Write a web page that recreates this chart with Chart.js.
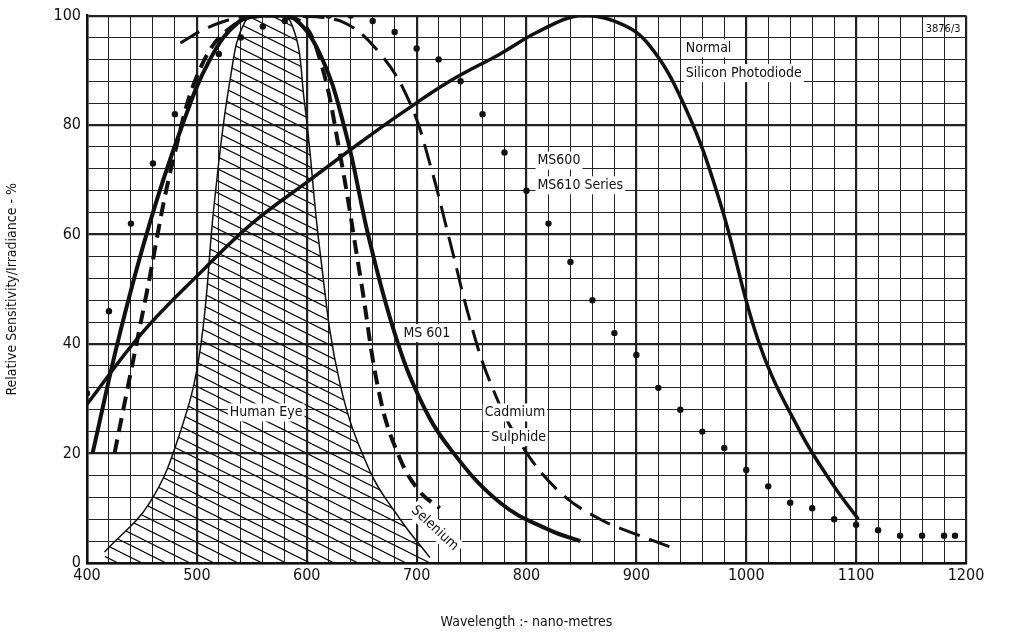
<!DOCTYPE html>
<html><head><meta charset="utf-8">
<script src="https://cdn.jsdelivr.net/npm/chart.js@4"></script>
<style>
html,body{margin:0;padding:0;background:#fff}
</style></head>
<body><canvas id="c" width="1024" height="635"></canvas>
<script>
// wavelengths (nm) and relative sensitivity (%) per curve
const siliconNm = [400, 450, 503, 550, 603, 650, 685, 730, 776, 810, 848, 880, 910, 945, 976, 1012, 1049, 1080, 1102];
const siliconVal = [29, 42, 53, 62, 70, 77, 82, 88, 93, 97, 100, 99, 95, 83, 66, 40, 24, 14, 8];

const ms600Nm = [400,420,440,460,480,500,520,540,560,580,600,620,640,660,680,700,720,740,760,780,800,820,840,860,880,900,920,940,960,980,1000,1020,1040,1060,1080,1100,1120,1140,1160,1180,1190];
const ms600Val = [31,46,62,73,82,88,93,96,98,99,100,100,100,99,97,94,92,88,82,75,68,62,55,48,42,38,32,28,24,21,17,14,11,10,8,7,6,5,5,5,5];

const ms601Nm = [405,430,457,485,512,539,562,585,612,635,657,680,703,730,776,821,849];
const ms601Val = [20,42,62,79,92,99,100,100,93,79,59,42,30,21,11,6,4];

const seleniumNm = [425,453,480,507,539,566,594,612,630,649,667,685,703,721];
const seleniumVal = [20,48,75,92,99,100,99,92,75,52,30,19,13,10];

const cdsNm = [485,512,548,585,631,667,694,712,730,749,767,794,830,867,903,930];
const cdsVal = [95,98,100,100,99,93,84,73,59,44,33,22,13,8,5,3];

const eyeNm = [416,457,485,503,516,530,544,562,585,598,612,630,657,685,712];
const eyeVal = [2,11,24,39,66,88,99,100,99,84,57,33,17,8,1];

const xTickLabels = [400,500,600,700,800,900,1000,1100,1200];
const yTickLabels = [0,20,40,60,80,100];

const pts = (xs, ys) => xs.map((x, i) => ({x: x, y: ys[i]}));

// hatch pattern for the human eye area
const pc = document.createElement("canvas");
pc.width = 24; pc.height = 12;
const pg = pc.getContext("2d");
pg.strokeStyle = "#111"; pg.lineWidth = 1.2;
pg.beginPath();
for (let k = -2; k <= 2; k++) { pg.moveTo(0, k*12); pg.lineTo(24, k*12 + 12); }
pg.stroke();
const hatch = pg.createPattern(pc, "repeat");

const FONT = "'DejaVu Sans Condensed', 'DejaVu Sans', sans-serif";

const labels = [
  {t: "Normal", x: 945, y: 94},
  {t: "Silicon Photodiode", x: 945, y: 89.5},
  {t: "MS600", x: 810, y: 73.5},
  {t: "MS610 Series", x: 810, y: 69},
  {t: "MS 601", x: 688, y: 42},
  {t: "Human Eye", x: 530, y: 27.5},
  {t: "Cadmium", x: 762, y: 27.5},
  {t: "Sulphide", x: 768, y: 23}
];

const textPlugin = {
  id: "texts",
  afterDatasetsDraw(chart) {
    const ctx = chart.ctx, xs = chart.scales.x, ys = chart.scales.y;
    ctx.save();
    ctx.font = "14px " + FONT;
    ctx.textBaseline = "middle";
    ctx.textAlign = "left";
    labels.forEach(l => {
      const px = xs.getPixelForValue(l.x), py = ys.getPixelForValue(l.y);
      const w = ctx.measureText(l.t).width;
      ctx.fillStyle = "#fff";
      ctx.fillRect(px - 2, py - 9, w + 4, 18);
      ctx.fillStyle = "#111";
      ctx.fillText(l.t, px, py);
    });
    // rotated Selenium label
    ctx.save();
    ctx.translate(xs.getPixelForValue(697), ys.getPixelForValue(10));
    ctx.rotate(0.75);
    ctx.fillStyle = "#fff"; ctx.fillRect(-2, -9, 64, 18);
    ctx.fillStyle = "#111";
    ctx.fillText("Selenium", 0, 0);
    ctx.restore();
    ctx.font = "11px " + FONT;
    ctx.textAlign = "right";
    ctx.fillStyle = "#111";
    ctx.fillText("3876/3", xs.getPixelForValue(1195), ys.getPixelForValue(97.5));
    ctx.restore();
  }
};

const major = (v, m) => (Math.round(v) % m === 0 ? 2.2 : 1);

new Chart(document.getElementById("c"), {
  type: "line",
  data: {
    datasets: [
      {label: "Human Eye", data: pts(eyeNm, eyeVal), borderColor: "#111", borderWidth: 1.5, backgroundColor: hatch, fill: "origin", tension: 0.4, pointRadius: 0},
      {label: "Normal Silicon Photodiode", data: pts(siliconNm, siliconVal), borderColor: "#111", borderWidth: 3.5, tension: 0.4, pointRadius: 0, fill: false},
      {label: "MS600/MS610", data: pts(ms600Nm, ms600Val), showLine: false, pointRadius: 3.2, pointBackgroundColor: "#111", pointBorderWidth: 0, fill: false},
      {label: "MS 601", data: pts(ms601Nm, ms601Val), borderColor: "#111", borderWidth: 4, tension: 0.4, pointRadius: 0, fill: false},
      {label: "Selenium", data: pts(seleniumNm, seleniumVal), borderColor: "#111", borderWidth: 4, borderDash: [14, 8], tension: 0.4, pointRadius: 0, fill: false},
      {label: "Cadmium Sulphide", data: pts(cdsNm, cdsVal), borderColor: "#111", borderWidth: 3, borderDash: [22, 10], tension: 0.4, pointRadius: 0, fill: false}
    ]
  },
  options: {
    responsive: false, animation: false,
    layout: {padding: {left: 0, top: 14, right: 58, bottom: 0}},
    plugins: {legend: {display: false}, tooltip: {enabled: false}},
    scales: {
      x: {
        type: "linear", min: 400, max: 1200,
        afterFit: s => { s.height = 72; },
        ticks: {stepSize: 20, autoSkip: false, maxRotation: 0, color: "#111",
          font: {size: 16, family: FONT},
          callback: v => xTickLabels.includes(v) ? String(v) : ""},
        grid: {color: "#222", lineWidth: c => major(c.tick.value, 100), drawTicks: false},
        border: {color: "#111", width: 2.5},
        title: {display: true, text: "Wavelength :- nano-metres", color: "#111", font: {size: 14, family: FONT}, padding: {top: 18}}
      },
      y: {
        min: 0, max: 100,
        afterFit: s => { s.width = 87; },
        ticks: {stepSize: 4, autoSkip: false, color: "#111", padding: 6,
          font: {size: 16, family: FONT},
          callback: v => yTickLabels.includes(v) ? String(v) : ""},
        grid: {color: "#222", lineWidth: c => major(c.tick.value, 20), drawTicks: false},
        border: {color: "#111", width: 2.5},
        title: {display: true, text: "Relative Sensitivity/Irradiance - %", color: "#111", font: {size: 14, family: FONT}, padding: {bottom: 4}}
      }
    }
  },
  plugins: [textPlugin]
});
</script>
</body></html>
